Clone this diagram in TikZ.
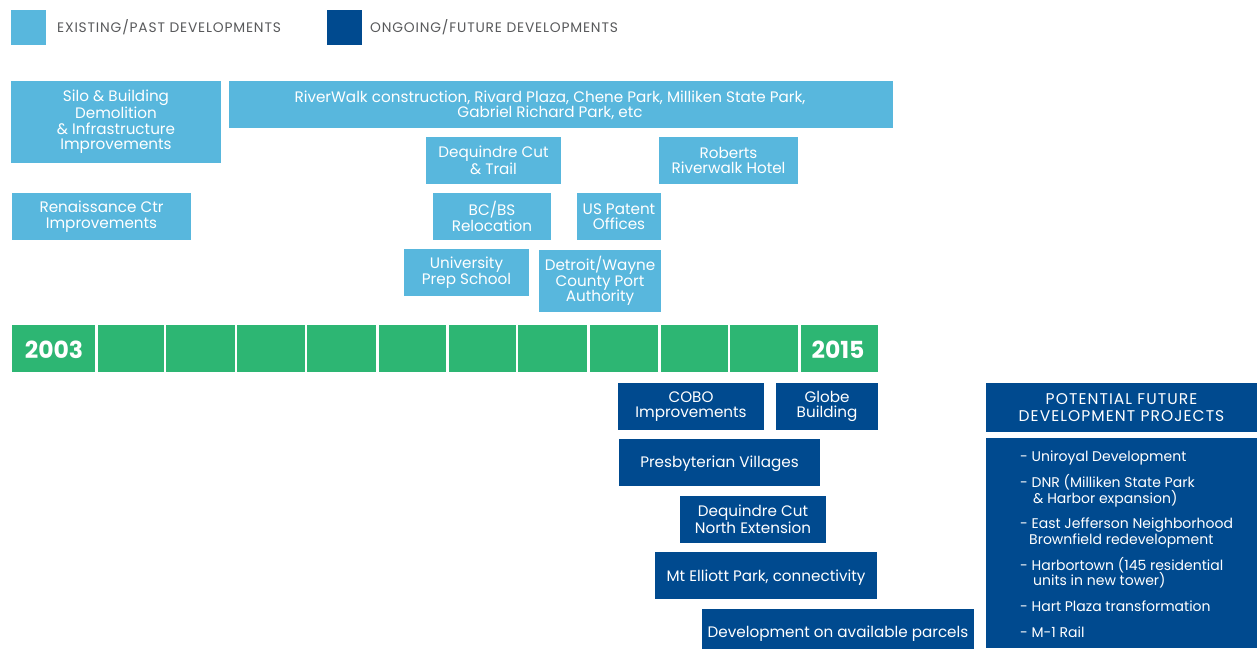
\documentclass[tikz,border=0pt]{standalone}
\usepackage{fontspec}
\setmainfont{Poppins}
\newfontfamily\legfont{Poppins}[LetterSpace=6]
\newfontfamily\headfont{Poppins}[LetterSpace=7]
\definecolor{lb}{HTML}{58B7DD}
\definecolor{db}{HTML}{004A8F}
\definecolor{gr}{HTML}{2DB673}
\definecolor{lg}{HTML}{58595B}
\begin{document}
\begin{tikzpicture}[x=1pt,y=-1pt,
  boxtxt/.style={text=white, align=center, font=\fontsize{15.2}{15.5}\selectfont},
  past/.style={boxtxt, fill=lb, inner sep=0pt},
  future/.style={boxtxt, fill=db, inner sep=0pt},
  cell/.style={fill=gr, inner sep=0pt, minimum height=47pt},
  year/.style={text=white, font=\fontsize{23.5}{23.5}\selectfont\bfseries},
  legtxt/.style={text=lg, anchor=west, inner sep=0pt, font=\legfont\fontsize{13.8}{14}\selectfont},
  item/.style={text=white, anchor=base west, inner sep=0pt, font=\fontsize{14}{15}\selectfont}]
\useasboundingbox (0,0) rectangle (1257,649);
% legend
\node[fill=lb, minimum width=35pt, minimum height=35pt, inner sep=0pt] (legpast) at (28.5,27.5) {};
\node[legtxt] (legpasttxt) at (57,27.5) {EXISTING/PAST DEVELOPMENTS};
\node[fill=db, minimum width=35pt, minimum height=35pt, inner sep=0pt] (legfut) at (344.5,27.5) {};
\node[legtxt] (legfuttxt) at (370,27.5) {ONGOING/FUTURE DEVELOPMENTS};
% past boxes
\node[past, minimum width=210pt, minimum height=82pt] (silo) at (116,122) {Silo \& Building\\Demolition\\\& Infrastructure\\Improvements};
\node[past, minimum width=664pt, minimum height=47pt] (riverwalk) at (561,104.5) {};
\node[boxtxt, inner sep=0pt] (rwtext) at (550,105.5) {RiverWalk construction, Rivard Plaza, Chene Park, Milliken State Park,\\Gabriel Richard Park, etc};
\node[past, minimum width=135pt, minimum height=47pt] (deq) at (493.5,160.5) {Dequindre Cut\\\& Trail};
\node[past, minimum width=139pt, minimum height=47pt] (roberts) at (728.5,160.5) {Roberts\\Riverwalk Hotel};
\node[past, minimum width=179pt, minimum height=47pt] (ren) at (101.5,216.5) {Renaissance Ctr\\Improvements};
\node[past, minimum width=118pt, minimum height=47pt] (bcbs) at (492,216.5) {BC/BS\\Relocation};
\node[past, minimum width=84pt, minimum height=47pt] (uspat) at (619,216.5) {US Patent\\Offices};
\node[past, minimum width=125pt, minimum height=47pt] (univ) at (466.5,272.5) {University\\Prep School};
\node[past, minimum width=122pt, minimum height=62pt] (dwcpa) at (600,281) {Detroit/Wayne\\County Port\\Authority};
% timeline
\foreach \a/\b [count=\i] in {12/95,98/164,166/235,237/305,307/376,379/446,449/516,518/587,590/658,661/728,730/798,801/878}{
  \node[cell, minimum width={(\b-\a)*1pt}] (c\i) at ({(\a+\b)/2},348.5) {};
}
\node[year] (y2003) at (54,349.5) {2003};
\node[year] (y2015) at (838,349.5) {2015};
% future boxes
\node[future, minimum width=146pt, minimum height=47pt] (cobo) at (691,406.5) {COBO\\Improvements};
\node[future, minimum width=102pt, minimum height=47pt] (globe) at (827,406.5) {Globe\\Building};
\node[future, minimum width=201pt, minimum height=47pt, text height=14pt] (presb) at (719.5,462.5) {Presbyterian Villages};
\node[future, minimum width=146pt, minimum height=47pt] (deqn) at (753,519.5) {Dequindre Cut\\North Extension};
\node[future, minimum width=222pt, minimum height=47pt, text height=16pt] (mtel) at (766,575.5) {Mt Elliott Park, connectivity};
\node[future, minimum width=272pt, minimum height=40pt, text height=20pt] (devp) at (838,629) {Development on available parcels};
% potential future panel
\node[fill=db, minimum width=271pt, minimum height=49pt, inner sep=0pt, text=white, align=center, font=\headfont\fontsize{15.5}{17.5}\selectfont] (pfhead) at (1121.5,407.5) {POTENTIAL FUTURE\\DEVELOPMENT PROJECTS};
\node[fill=db, minimum width=271pt, minimum height=210pt, inner sep=0pt] (pfbody) at (1121.5,543) {};
\node[item] (i1) at (1020,461) {- Uniroyal Development};
\node[item] (i2a) at (1020,487) {- DNR (Milliken State Park};
\node[item] (i2b) at (1033,503) {\& Harbor expansion)};
\node[item] (i3a) at (1020,528) {- East Jefferson Neighborhood};
\node[item] (i3b) at (1029,544) {Brownfield redevelopment};
\node[item] (i4a) at (1020,570) {- Harbortown (145 residential};
\node[item] (i4b) at (1033,585) {units in new tower)};
\node[item] (i5) at (1020,611) {- Hart Plaza transformation};
\node[item] (i6) at (1020,637) {- M-1 Rail};
\end{tikzpicture}
\end{document}
